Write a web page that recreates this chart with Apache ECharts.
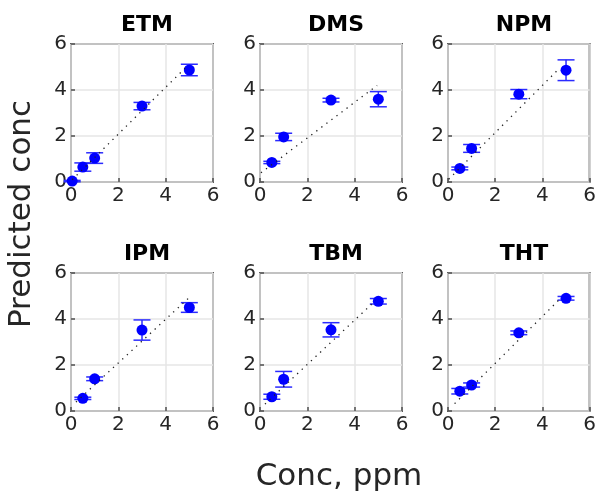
<!DOCTYPE html>
<html>
<head>
<meta charset="utf-8">
<script src="https://cdn.jsdelivr.net/npm/echarts@6/dist/echarts.min.js"></script>
<style>
  html, body { margin: 0; padding: 0; background: #fff; }
  #chart { width: 599px; height: 493px; }
</style>
</head>
<body>
<div id="chart"></div>
<script>
// panel titles (row by row)
const panelNames = ['ETM', 'DMS', 'NPM', 'IPM', 'TBM', 'THT']

// true concentration (x), predicted mean (y), error half-width
const etmConc = [0.05, 0.5, 1, 3, 5]
const etmPred = [0.04, 0.65, 1.04, 3.3, 4.87]
const etmErr = [0.03, 0.18, 0.23, 0.16, 0.25]
const etmFit = [[0.05, 0.1], [4.85, 4.98]]

const dmsConc = [0.5, 1, 3, 5]
const dmsPred = [0.85, 1.96, 3.56, 3.6]
const dmsErr = [0.05, 0.16, 0.08, 0.33]
const dmsFit = [[0.04, 0.4], [4.95, 4.2]]

const npmConc = [0.5, 1, 3, 5]
const npmPred = [0.59, 1.46, 3.82, 4.86]
const npmErr = [0.06, 0.17, 0.2, 0.45]
const npmFit = [[0.03, 0.12], [4.65, 4.87]]

const ipmConc = [0.5, 1, 3, 5]
const ipmPred = [0.55, 1.4, 3.52, 4.5]
const ipmErr = [0.05, 0.08, 0.44, 0.21]
const ipmFit = [[0.21, 0.39], [4.96, 4.9]]

const tbmConc = [0.5, 1, 3, 5]
const tbmPred = [0.62, 1.38, 3.53, 4.77]
const tbmErr = [0.11, 0.34, 0.31, 0.12]
const tbmFit = [[0.21, 0.3], [4.88, 4.8]]

const thtConc = [0.5, 1, 3, 5]
const thtPred = [0.86, 1.13, 3.4, 4.9]
const thtErr = [0.12, 0.09, 0.08, 0.08]
const thtFit = [[0.28, 0.32], [4.77, 4.9]]

const panels = [
  [etmConc, etmPred, etmErr, etmFit],
  [dmsConc, dmsPred, dmsErr, dmsFit],
  [npmConc, npmPred, npmErr, npmFit],
  [ipmConc, ipmPred, ipmErr, ipmFit],
  [tbmConc, tbmPred, tbmErr, tbmFit],
  [thtConc, thtPred, thtErr, thtFit]
]

const colLefts = [71, 260, 448]
const rowTops = [44, 273]
const boxW = 142
const boxH = 138
const textColor = '#262626'

const chart = echarts.init(document.getElementById('chart'))

const grids = []
const xAxes = []
const yAxes = []
const titles = []
const series = []

panels.forEach((p, i) => {
  const col = i % 3
  const row = Math.floor(i / 3)
  grids.push({
    left: colLefts[col],
    top: rowTops[row],
    width: boxW,
    height: boxH,
    show: true,
    borderColor: '#5a5a5a',
    borderWidth: 2,
    backgroundColor: 'transparent'
  })
  const axisCommon = {
    gridIndex: i,
    type: 'value',
    min: 0,
    max: 6,
    interval: 2,
    axisLine: { show: false },
    axisTick: { show: true, inside: true, length: 4, lineStyle: { color: '#4d4d4d', width: 1.5 } },
    axisLabel: { color: textColor, fontSize: 20, fontFamily: 'DejaVu Sans', margin: 4 },
    splitLine: { show: true, lineStyle: { color: '#e6e6e6', width: 1.5 } }
  }
  xAxes.push(Object.assign({}, axisCommon))
  yAxes.push(Object.assign({}, axisCommon))
  titles.push({
    text: panelNames[i],
    left: colLefts[col] + boxW / 2,
    top: rowTops[row] - 35,
    textAlign: 'center',
    textStyle: { fontSize: 22, fontWeight: 'bold', color: '#000', fontFamily: 'DejaVu Sans' }
  })

  const [conc, pred, err, fit] = p
  series.push({
    type: 'custom',
    xAxisIndex: i,
    yAxisIndex: i,
    clip: false,
    z: 3,
    data: conc.map((c, k) => [c, pred[k], err[k]]),
    encode: { x: 0, y: 1 },
    renderItem(params, api) {
      const x = api.value(0)
      const y = api.value(1)
      const e = api.value(2)
      const hi = api.coord([x, y + e])
      const lo = api.coord([x, y - e])
      const hw = 8.5
      const st = { stroke: '#2b2bff', lineWidth: 1.5 }
      return {
        type: 'group',
        children: [
          { type: 'line', shape: { x1: hi[0], y1: hi[1], x2: lo[0], y2: lo[1] }, style: st },
          { type: 'line', shape: { x1: hi[0] - hw, y1: hi[1], x2: hi[0] + hw, y2: hi[1] }, style: st },
          { type: 'line', shape: { x1: lo[0] - hw, y1: lo[1], x2: lo[0] + hw, y2: lo[1] }, style: st }
        ]
      }
    }
  })
  series.push({
    type: 'scatter',
    xAxisIndex: i,
    yAxisIndex: i,
    symbol: 'circle',
    symbolSize: 11,
    z: 4,
    itemStyle: { color: '#0000ff', opacity: 1 },
    data: conc.map((c, k) => [c, pred[k]])
  })
  series.push({
    type: 'line',
    xAxisIndex: i,
    yAxisIndex: i,
    showSymbol: false,
    symbol: 'none',
    z: 5,
    silent: true,
    lineStyle: { color: '#222', width: 1.3, type: [1.3, 5] },
    data: fit
  })
})

chart.setOption({
  animation: false,
  backgroundColor: '#fff',
  title: titles,
  grid: grids,
  xAxis: xAxes,
  yAxis: yAxes,
  series: series,
  graphic: [
    {
      type: 'text',
      x: 22,
      y: 214,
      rotation: Math.PI / 2,
      style: {
        text: 'Predicted conc',
        fill: textColor,
        font: '31px "DejaVu Sans"',
        textAlign: 'center',
        textVerticalAlign: 'middle'
      }
    },
    {
      type: 'text',
      x: 339,
      y: 477,
      style: {
        text: 'Conc, ppm',
        fill: textColor,
        font: '31px "DejaVu Sans"',
        textAlign: 'center',
        textVerticalAlign: 'middle'
      }
    }
  ]
})
</script>
</body>
</html>
